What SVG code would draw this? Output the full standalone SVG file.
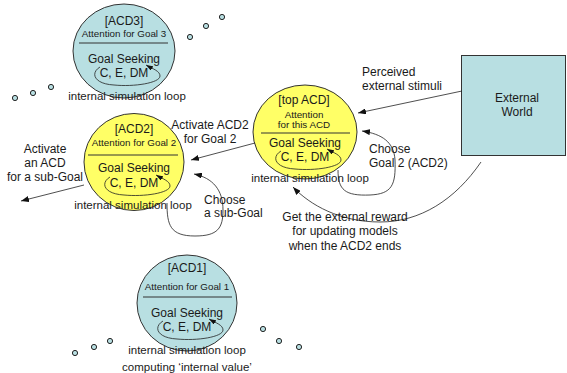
<svg xmlns="http://www.w3.org/2000/svg" width="567" height="373" viewBox="0 0 567 373">
  <style>
    text { font-family: "Liberation Sans", Arial, sans-serif; fill: #1a1a1a; font-size: 12px; }
    .mid { text-anchor: middle; }
    .small { font-size: 9.8px; }
    .cap { font-size: 11.5px; }
    .yellow { fill: #FFFF66; stroke: #333; stroke-width: 1; }
    .blue { fill: #B8DFE2; stroke: #333; stroke-width: 1; }
    .divider { stroke: #333; stroke-width: 1; }
    .edge { fill: none; stroke: #222; stroke-width: 0.8; }
    .loop { fill: none; stroke: #222; stroke-width: 0.8; marker-end: url(#tipSmall); }
    .dot { fill: #B8DFE2; stroke: #222; stroke-width: 1; }
  </style>
  <defs>
    <marker id="tip" markerUnits="userSpaceOnUse" markerWidth="8" markerHeight="6" refX="8" refY="3" orient="auto">
      <path d="M0,0 L8,3 L0,6 z" fill="#111"/>
    </marker>
    <marker id="tipSmall" markerUnits="userSpaceOnUse" markerWidth="7" markerHeight="5" refX="7" refY="2.5" orient="auto">
      <path d="M0,0 L7,2.5 L0,5 z" fill="#111"/>
    </marker>
    <!-- closed "C, E, DM" loop, drawn around the text baseline centre -->
    <path id="cedmLoop" class="loop" d="M -24,-10 C -34,-4 -30,7 -10,8 C 10,10 36,6 36,-1 C 36,-6 29,-8 22,-12"/>
  </defs>

  <!-- ACD3 -->
  <g id="acd3">
    <ellipse class="blue" cx="124" cy="51" rx="51" ry="47"/>
    <line class="divider" x1="79" y1="43" x2="168" y2="43"/>
    <text class="mid" x="124" y="25">[ACD3]</text>
    <text class="mid small" x="124" y="37">Attention for Goal 3</text>
    <text class="mid" x="124" y="63">Goal Seeking</text>
    <text class="mid" x="124" y="77">C, E, DM</text>
    <use href="#cedmLoop" x="124" y="77"/>
    <text class="mid cap" x="127" y="100">internal simulation loop</text>
  </g>

  <!-- top ACD -->
  <g id="topAcd">
    <ellipse class="yellow" cx="305" cy="132" rx="52" ry="47"/>
    <line class="divider" x1="261" y1="133" x2="350" y2="133"/>
    <text class="mid" x="304" y="104">[top ACD]</text>
    <text class="mid small" x="304" y="118">Attention</text>
    <text class="mid small" x="304" y="128">for this ACD</text>
    <text class="mid" x="305" y="147">Goal Seeking</text>
    <text class="mid" x="305" y="161">C, E, DM</text>
    <use href="#cedmLoop" x="305" y="161"/>
    <text class="mid cap" x="310" y="182">internal simulation loop</text>
  </g>

  <!-- ACD2 -->
  <g id="acd2">
    <ellipse class="yellow" cx="134" cy="162" rx="50" ry="48.5"/>
    <line class="divider" x1="88" y1="155" x2="178" y2="155"/>
    <text class="mid" x="134" y="133">[ACD2]</text>
    <text class="mid small" x="134" y="146">Attention for Goal 2</text>
    <text class="mid" x="134" y="172">Goal Seeking</text>
    <text class="mid" x="134" y="187">C, E, DM</text>
    <use href="#cedmLoop" x="134" y="187"/>
    <text class="mid cap" x="133" y="209">internal simulation loop</text>
  </g>

  <!-- ACD1 -->
  <g id="acd1">
    <ellipse class="blue" cx="187" cy="303" rx="50" ry="48"/>
    <line class="divider" x1="143" y1="297" x2="232" y2="297"/>
    <text class="mid" x="187" y="272">[ACD1]</text>
    <text class="mid small" x="187" y="290">Attention for Goal 1</text>
    <text class="mid" x="187" y="317">Goal Seeking</text>
    <text class="mid" x="187" y="331">C, E, DM</text>
    <use href="#cedmLoop" x="187" y="331"/>
    <text class="mid cap" x="187" y="354">internal simulation loop</text>
    <text class="mid cap" x="187" y="371">computing ‘internal value’</text>
  </g>

  <!-- External World -->
  <g id="externalWorld">
    <rect class="blue" x="461.5" y="55.5" width="104" height="100"/>
    <text class="mid" x="517" y="102">External</text>
    <text class="mid" x="517" y="116">World</text>
  </g>

  <!-- continuation dots -->
  <g id="dots">
    <circle class="dot" cx="15" cy="98" r="2.6"/>
    <circle class="dot" cx="33" cy="93" r="2.6"/>
    <circle class="dot" cx="51" cy="87" r="2.6"/>
    <circle class="dot" cx="190" cy="37" r="2.6"/>
    <circle class="dot" cx="206" cy="26" r="2.6"/>
    <circle class="dot" cx="222" cy="17" r="2.6"/>
    <circle class="dot" cx="75" cy="353" r="2.6"/>
    <circle class="dot" cx="94" cy="347" r="2.6"/>
    <circle class="dot" cx="110" cy="341" r="2.6"/>
    <circle class="dot" cx="263" cy="329" r="2.6"/>
    <circle class="dot" cx="279" cy="341" r="2.6"/>
    <circle class="dot" cx="299" cy="347" r="2.6"/>
  </g>

  <!-- connectors -->
  <g id="connectors">
    <path class="edge" marker-end="url(#tip)" d="M 462,91 L 358,113"/>
    <path class="edge" marker-end="url(#tip)" d="M 255,143 L 191,160"/>
    <path class="edge" marker-end="url(#tip)" d="M 84,185 L 21,201"/>
    <path class="edge" marker-end="url(#tip)" d="M 338,170 C 338,190 345,196 370,195 C 392,194 396,185 395,160 C 394,142 382,134 362,131"/>
    <path class="edge" marker-end="url(#tip)" d="M 167,203 C 167,225 170,236 195,236 C 218,236 223,228 223,210 C 223,190 213,178 194,174"/>
    <path class="edge" marker-end="url(#tip)" d="M 481,162 C 455,200 420,222 380,222 C 340,222 310,205 293,187"/>
  </g>

  <!-- connector labels -->
  <g id="labels">
    <text x="362" y="76">Perceived</text>
    <text x="362" y="90">external stimuli</text>
    <text x="369" y="153">Choose</text>
    <text x="369" y="167">Goal 2 (ACD2)</text>
    <text class="mid" x="210" y="129">Activate ACD2</text>
    <text class="mid" x="210" y="143">for Goal 2</text>
    <text class="mid" x="45" y="153">Activate</text>
    <text class="mid" x="45" y="167">an ACD</text>
    <text class="mid" x="45" y="181">for a sub-Goal</text>
    <text x="204" y="204">Choose</text>
    <text x="204" y="217">a sub-Goal</text>
    <text class="mid" x="345" y="221">Get the external reward</text>
    <text class="mid" x="345" y="235">for updating models</text>
    <text class="mid" x="345" y="250">when the ACD2 ends</text>
  </g>
</svg>
